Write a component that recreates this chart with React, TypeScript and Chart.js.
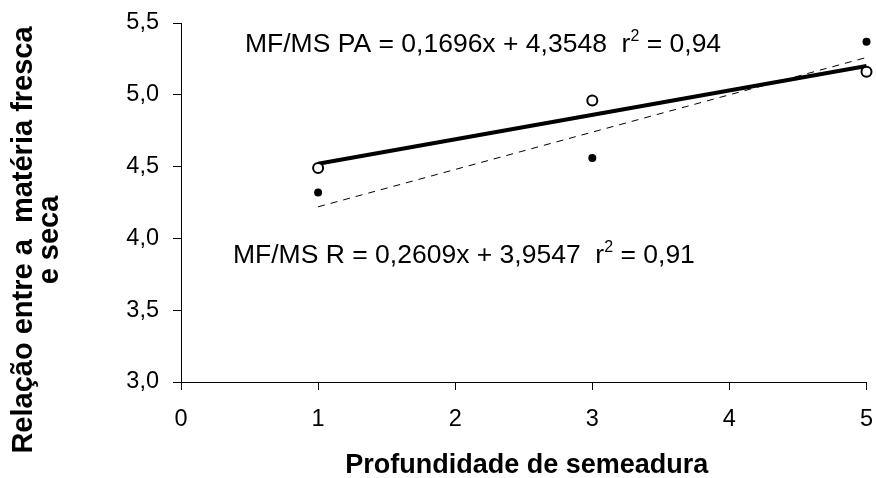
import React, { useEffect, useRef } from "react";
import { Chart, registerables } from "chart.js";

Chart.register(...registerables);

// ---- data ----
const depths = [1, 3, 5];
const ratioPA = [4.49, 4.96, 5.16]; // open circles (MF/MS PA)
const ratioR = [4.32, 4.56, 5.37]; // filled dots (MF/MS R)
const trendX = [1, 5];
const trendPA = [4.52, 5.2]; // solid regression line
const trendR = [4.22, 5.26]; // dashed regression line
const xTickValues = [0, 1, 2, 3, 4, 5];
const yTickValues = [3.0, 3.5, 4.0, 4.5, 5.0, 5.5];

const eqPA = "MF/MS PA = 0,1696x + 4,3548  r";
const r2PA = " = 0,94";
const eqR = "MF/MS R = 0,2609x + 3,9547  r";
const r2R = " = 0,91";
const yTitleLines = ["Relação entre a  matéria fresca", "e seca"];
const xTitle = "Profundidade de semeadura";

const FONT = "'Liberation Sans', Arial, sans-serif";

const textPlugin = {
  id: "textPlugin",
  afterDraw(chart: any) {
    const ctx = chart.ctx as CanvasRenderingContext2D;
    ctx.save();
    ctx.fillStyle = "#000";

    // equations
    const drawEq = (main: string, rest: string, x: number, y: number) => {
      ctx.font = `26.5px ${FONT}`;
      ctx.textAlign = "left";
      ctx.textBaseline = "alphabetic";
      ctx.fillText(main, x, y);
      let w = ctx.measureText(main).width;
      ctx.font = `16px ${FONT}`;
      ctx.fillText("2", x + w, y - 11);
      w += ctx.measureText("2").width;
      ctx.font = `26.5px ${FONT}`;
      ctx.fillText(rest, x + w, y);
    };
    drawEq(eqPA, r2PA, 245, 52);
    drawEq(eqR, r2R, 233, 263);

    // x title
    ctx.font = `bold 27px ${FONT}`;
    ctx.textAlign = "center";
    ctx.fillText(xTitle, (chart.chartArea.left + chart.chartArea.right) / 2 + 3, 473);

    // y title
    ctx.font = `bold 29px ${FONT}`;
    const baseX = [32, 58];
    yTitleLines.forEach((line, i) => {
      ctx.save();
      ctx.translate(baseX[i], 240);
      ctx.rotate(-Math.PI / 2);
      ctx.textAlign = "center";
      ctx.fillText(line, 0, 0);
      ctx.restore();
    });
    ctx.restore();
  },
};

export default function App() {
  const ref = useRef<HTMLCanvasElement>(null);
  useEffect(() => {
    document.body.style.margin = "0";
    const canvas = ref.current!;
    const chart = new Chart(canvas, {
      type: "scatter",
      data: {
        datasets: [
          {
            label: "PA",
            data: depths.map((x, i) => ({ x, y: ratioPA[i] })),
            pointStyle: "circle",
            pointRadius: 5,
            pointBackgroundColor: "#fff",
            pointBorderColor: "#000",
            pointBorderWidth: 2,
            showLine: false,
            clip: false,
            order: 0,
          },
          {
            label: "R",
            data: depths.map((x, i) => ({ x, y: ratioR[i] })),
            pointStyle: "circle",
            pointRadius: 4,
            pointBackgroundColor: "#000",
            pointBorderColor: "#000",
            pointBorderWidth: 0,
            showLine: false,
            clip: false,
            order: 0,
          },
          {
            label: "PA trend",
            data: trendX.map((x, i) => ({ x, y: trendPA[i] })),
            showLine: true,
            borderColor: "#000",
            borderWidth: 4,
            pointRadius: 0,
            clip: false,
            order: 2,
          },
          {
            label: "R trend",
            data: trendX.map((x, i) => ({ x, y: trendR[i] })),
            showLine: true,
            borderColor: "#000",
            borderWidth: 1,
            borderDash: [7, 6],
            pointRadius: 0,
            clip: false,
            order: 1,
          },
        ],
      },
      options: {
        animation: false,
        responsive: false,
        maintainAspectRatio: false,
        layout: { padding: { top: 23, right: 9.5, left: 0, bottom: 0 } },
        plugins: { legend: { display: false }, tooltip: { enabled: false } },
        scales: {
          x: {
            type: "linear",
            min: 0,
            max: 5,
            afterFit: (s: any) => {
              s.height = 96;
              s.paddingLeft = 0;
              s.paddingRight = 0;
            },
            afterBuildTicks: (s: any) => {
              s.ticks = xTickValues.map((v) => ({ value: v }));
            },
            ticks: {
              color: "#000",
              font: { family: FONT, size: 23.5 },
              padding: 15,
              maxRotation: 0,
              autoSkip: false,
              callback: (v: any) => String(v),
            },
            grid: { drawOnChartArea: false, tickLength: 8, color: "#000", lineWidth: 1 },
            border: { color: "#000", width: 1 },
          },
          y: {
            type: "linear",
            min: 3,
            max: 5.5,
            afterFit: (s: any) => {
              s.width = 181;
              s.paddingTop = 0;
              s.paddingBottom = 0;
            },
            afterBuildTicks: (s: any) => {
              s.ticks = yTickValues.map((v) => ({ value: v }));
            },
            ticks: {
              color: "#000",
              font: { family: FONT, size: 23.5 },
              padding: 14,
              autoSkip: false,
              callback: (v: any) => Number(v).toFixed(1).replace(".", ","),
            },
            grid: { drawOnChartArea: false, tickLength: 8, color: "#000", lineWidth: 1 },
            border: { color: "#000", width: 1 },
          },
        },
      },
      plugins: [textPlugin],
    });
    return () => chart.destroy();
  }, []);
  return <canvas ref={ref} width={876} height={478} style={{ display: "block" }} />;
}
